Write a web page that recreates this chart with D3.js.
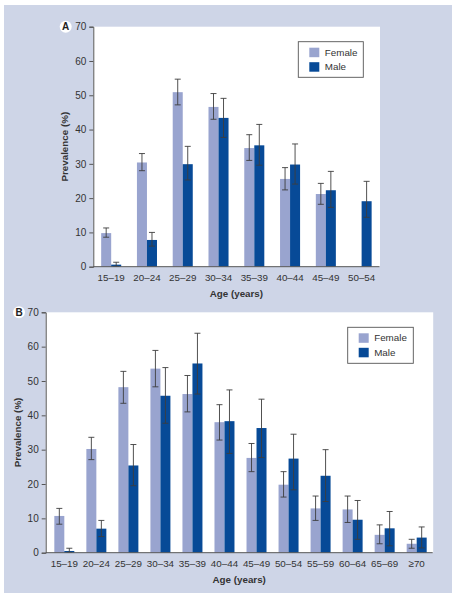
<!DOCTYPE html>
<html><head><meta charset="utf-8">
<script src="https://cdn.jsdelivr.net/npm/d3@7"></script>
<style>
body{margin:0;background:#fff;}
svg{display:block;font-family:"Liberation Sans",Arial,sans-serif;}
</style></head><body>
<svg id="c" width="457" height="600"></svg>
<script>
// Panel A data
const catsA = ["15–19","20–24","25–29","30–34","35–39","40–44","45–49","50–54"];
const femaleA = [9.8, 30.4, 50.9, 46.6, 34.6, 25.6, 21.2, null];
const femaleALo = [8.6, 28.0, 47.2, 43.0, 31.0, 22.4, 18.2, null];
const femaleAHi = [11.3, 33.0, 54.7, 50.5, 38.5, 28.9, 24.3, null];
const maleA = [0.6, 7.8, 29.9, 43.4, 35.4, 29.8, 22.3, 19.1];
const maleALo = [0.1, 6.0, 25.3, 37.7, 29.6, 24.1, 17.3, 14.4];
const maleAHi = [1.3, 10.0, 35.1, 49.1, 41.5, 35.8, 27.8, 24.9];
// Panel B data
const catsB = ["15–19","20–24","25–29","30–34","35–39","40–44","45–49","50–54","55–59","60–64","65–69","≥70"];
const femaleB = [10.7, 30.2, 48.2, 53.6, 46.2, 38.0, 27.6, 19.8, 12.9, 12.6, 5.2, 2.6];
const femaleBLo = [8.3, 27.1, 43.5, 48.3, 41.0, 32.8, 23.6, 16.2, 9.4, 8.8, 2.6, 1.3];
const femaleBHi = [12.9, 33.6, 52.8, 58.9, 51.6, 43.1, 31.8, 23.6, 16.5, 16.5, 8.1, 3.9];
const maleB = [0.5, 7.0, 25.4, 45.7, 55.1, 38.3, 36.3, 27.4, 22.4, 9.6, 7.1, 4.4];
const maleBLo = [0.1, 4.7, 19.5, 37.7, 46.2, 28.9, 27.7, 18.3, 14.9, 3.9, 2.0, 1.4];
const maleBHi = [1.3, 9.4, 31.5, 53.9, 63.9, 47.4, 44.7, 34.5, 30.0, 15.2, 12.0, 7.5];
const yTicks = [0,10,20,30,40,50,60,70];
const seriesNames = ["Female","Male"];
const colors = {Female:"#99a4cf", Male:"#074a97"};

const svg = d3.select("#c");
svg.append("rect").attr("x",4).attr("y",5).attr("width",448).attr("height",588).attr("fill","#ced5e7");

function panel(o){
  const g = svg.append("g");
  const x0 = d3.scaleBand().domain(o.cats).range([o.x0, o.x1]).paddingInner(o.pad).paddingOuter(o.pad/2);
  const x1 = d3.scaleBand().domain(seriesNames).range([0, x0.bandwidth()]);
  const y = d3.scaleLinear().domain([0,70]).range([o.yb, o.yt]);
  g.append("rect").attr("x",o.ax).attr("y",y(70)).attr("width",o.x1 - o.ax + 0.5).attr("height",y(0)-y(70)).attr("fill","#fff");
  const data = [];
  o.cats.forEach((c,i)=>{
    data.push({c, s:"Female", v:o.f[i], lo:o.fl[i], hi:o.fh[i]});
    data.push({c, s:"Male", v:o.m[i], lo:o.ml[i], hi:o.mh[i]});
  });
  const d = data.filter(e=>e.v!==null);
  g.selectAll(".bar").data(d).enter().append("rect")
    .attr("x",e=>x0(e.c)+x1(e.s)).attr("width",x1.bandwidth())
    .attr("y",e=>y(e.v)).attr("height",e=>y(0)-y(e.v)).attr("fill",e=>colors[e.s]);
  const eb = g.selectAll(".eb").data(d).enter().append("g").attr("stroke","#3d3d3d").attr("stroke-width",0.9);
  const cx = e=>x0(e.c)+x1(e.s)+x1.bandwidth()/2;
  eb.append("line").attr("x1",cx).attr("x2",cx).attr("y1",e=>y(e.lo)).attr("y2",e=>y(e.hi));
  eb.append("line").attr("x1",e=>cx(e)-3).attr("x2",e=>cx(e)+3).attr("y1",e=>y(e.hi)).attr("y2",e=>y(e.hi));
  eb.append("line").attr("x1",e=>cx(e)-3).attr("x2",e=>cx(e)+3).attr("y1",e=>y(e.lo)).attr("y2",e=>y(e.lo));
  // y axis
  const ya = g.append("g").attr("transform",`translate(${o.ax},0)`)
    .call(d3.axisLeft(y).tickValues(yTicks).tickSize(4).tickPadding(3));
  ya.select(".domain").attr("stroke","#555");
  ya.selectAll(".tick line").attr("stroke","#555");
  ya.selectAll("text").attr("font-size","10px").attr("fill","#333").attr("font-family","Liberation Sans, Arial, sans-serif");
  // x axis
  const xa = g.append("g").attr("transform",`translate(0,${o.yb})`)
    .call(d3.axisBottom(x0).tickSize(0).tickPadding(7.5));
  xa.select(".domain").attr("d",`M${o.ax},0H${o.x1}`).attr("stroke","#555");
  xa.selectAll("text").attr("font-size","9.8px").attr("fill","#333").attr("font-family","Liberation Sans, Arial, sans-serif");
  // titles
  g.append("text").attr("x",(o.ax+o.x1)/2).attr("y",o.yb+30).attr("text-anchor","middle")
    .attr("font-size","9.8px").attr("font-weight","bold").attr("fill","#333").text("Age (years)");
  g.append("text").attr("transform",`translate(${o.ax-25},${(o.yb+o.yt)/2}) rotate(-90)`).attr("text-anchor","middle")
    .attr("font-size","9.8px").attr("font-weight","bold").attr("fill","#333").text("Prevalence (%)");
  // panel letter
  g.append("circle").attr("cx",o.lx).attr("cy",o.yt).attr("r",6).attr("fill","#fff");
  g.append("text").attr("x",o.lx).attr("y",o.yt+3.5).attr("text-anchor","middle").attr("font-size","10px")
    .attr("font-weight","bold").attr("fill","#222").text(o.letter);
  // legend
  const L = g.append("g");
  L.append("rect").attr("x",o.lgx).attr("y",o.lgy).attr("width",o.lgw).attr("height",o.lgh)
    .attr("fill","#fff").attr("stroke","#555").attr("stroke-width",0.9);
  seriesNames.forEach((s,i)=>{
    L.append("rect").attr("x",o.lgx+11).attr("y",o.lgy+6+i*14.5).attr("width",10).attr("height",9.5).attr("fill",colors[s]);
    L.append("text").attr("x",o.lgx+26.5).attr("y",o.lgy+14+i*14.5).attr("font-size","9.8px").attr("fill","#333").text(s);
  });
}

panel({cats:catsA, f:femaleA, fl:femaleALo, fh:femaleAHi, m:maleA, ml:maleALo, mh:maleAHi,
  x0:93.3, x1:379.5, ax:93.3, pad:0.44, yb:266.7, yt:26.7, lx:65.7, letter:"A",
  lgx:298.3, lgy:41.7, lgw:65, lgh:35.6});
panel({cats:catsB, f:femaleB, fl:femaleBLo, fh:femaleBHi, m:maleB, ml:maleBLo, mh:maleBHi,
  x0:48.3, x1:432.7, ax:45.7, pad:0.376, yb:552.7, yt:312.3, lx:19, letter:"B",
  lgx:347.7, lgy:327.3, lgw:65.6, lgh:36});
</script>
</body></html>
